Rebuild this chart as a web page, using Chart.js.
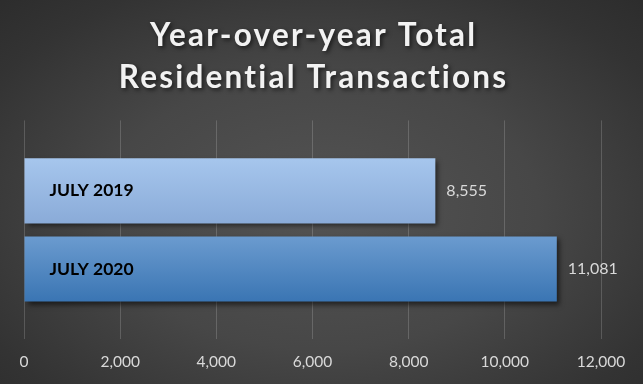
<!DOCTYPE html>
<html>
<head>
<meta charset="utf-8">
<script src="https://cdn.jsdelivr.net/npm/chart.js@4.4.0/dist/chart.umd.min.js"></script>
<style>
  html, body { margin: 0; padding: 0; }
  body {
    width: 643px; height: 384px; overflow: hidden;
    background: radial-gradient(ellipse 75% 80% at 50% 55%, #545454 0%, #474747 45%, #333333 80%, #2b2b2b 100%);
  }
  #wrap { position: relative; width: 643px; height: 384px; }
</style>
</head>
<body>
<div id="wrap"><canvas id="c" width="643" height="384"></canvas></div>
<script>
// ---- data ----
const titleLines = ['Year-over-year Total', 'Residential Transactions'];
const seriesNames = ['JULY 2019', 'JULY 2020'];
const seriesValues = [8555, 11081];
const category = ['Total'];
const xTicksMin = 0, xTicksMax = 12000, xTicksStep = 2000;

const gradients = [
  ['#a6c6ed', '#8aabd8'],
  ['#6b9bcf', '#3a75b3']
];

const fmt = v => v.toLocaleString('en-US');

const barStyle = {
  id: 'barStyle',
  beforeDatasetsDraw(chart) {
    const ctx = chart.ctx;
    chart.data.datasets.forEach((ds, i) => {
      const meta = chart.getDatasetMeta(i);
      meta.data.forEach(el => {
        const p = el.getProps(['y', 'height'], true);
        const g = ctx.createLinearGradient(0, p.y - p.height / 2, 0, p.y + p.height / 2);
        g.addColorStop(0, gradients[i][0]);
        g.addColorStop(1, gradients[i][1]);
        el.options = Object.assign({}, el.options, { backgroundColor: g });
      });
    });
    ctx.save();
    ctx.shadowColor = 'rgba(0,0,0,0.55)';
    ctx.shadowBlur = 5;
    ctx.shadowOffsetX = 3;
    ctx.shadowOffsetY = 3;
  },
  afterDatasetsDraw(chart) {
    const ctx = chart.ctx;
    ctx.restore();
    ctx.save();
    chart.data.datasets.forEach((ds, i) => {
      const meta = chart.getDatasetMeta(i);
      meta.data.forEach((el, j) => {
        const p = el.getProps(['x', 'y', 'base'], true);
        // value label
        ctx.font = '16px Lato';
        ctx.fillStyle = '#d9d9d9';
        ctx.textAlign = 'left';
        ctx.textBaseline = 'middle';
        ctx.fillText(fmt(ds.data[j]), p.x + 11, p.y);
        // series name inside bar
        ctx.font = 'bold 17.5px Lato';
        ctx.fillStyle = '#000000';
        ctx.fillText(ds.label, p.base + 25, p.y);
      });
    });
    ctx.restore();
  }
};

const chart = new Chart(document.getElementById('c'), {
  type: 'bar',
  data: {
    labels: category,
    datasets: seriesNames.map((name, i) => ({
      label: name,
      data: [seriesValues[i]],
      backgroundColor: gradients[i][0],
      borderWidth: 0,
      categoryPercentage: 0.714,
      barPercentage: 0.834
    }))
  },
  options: {
    indexAxis: 'y',
    responsive: false,
    animation: false,
    layout: { padding: { left: 24, right: 42, top: 0, bottom: 0 } },
    plugins: {
      legend: { display: false },
      tooltip: { enabled: false },
      title: {
        display: true,
        text: titleLines,
        color: '#f2f2f2',
        font: { family: 'Lato', weight: 'bold', size: 31.5, lineHeight: 1.34 },
        padding: { top: 15, bottom: 21 }
      }
    },
    scales: {
      x: {
        min: xTicksMin, max: xTicksMax,
        ticks: {
          stepSize: xTicksStep,
          color: '#d9d9d9',
          font: { family: 'Lato', size: 15.5 },
          padding: 13,
          callback: v => fmt(v),
          maxRotation: 0
        },
        grid: { color: 'rgba(255,255,255,0.17)', drawTicks: false, lineWidth: 1 },
        border: { display: false }
      },
      y: { display: false }
    }
  },
  plugins: [barStyle]
});

// title shadow + letter spacing
const tb = chart.titleBlock;
if (tb) {
  const origDraw = tb.draw.bind(tb);
  tb.draw = function () {
    const ctx = chart.ctx;
    ctx.save();
    ctx.shadowColor = 'rgba(0,0,0,0.6)';
    ctx.shadowBlur = 4;
    ctx.shadowOffsetX = 2;
    ctx.shadowOffsetY = 2;
    try { ctx.letterSpacing = '2.2px'; } catch (e) {}
    ctx.translate(1.1, 0);
    origDraw();
    ctx.restore();
  };
  chart.draw();
}
</script>
</body>
</html>
